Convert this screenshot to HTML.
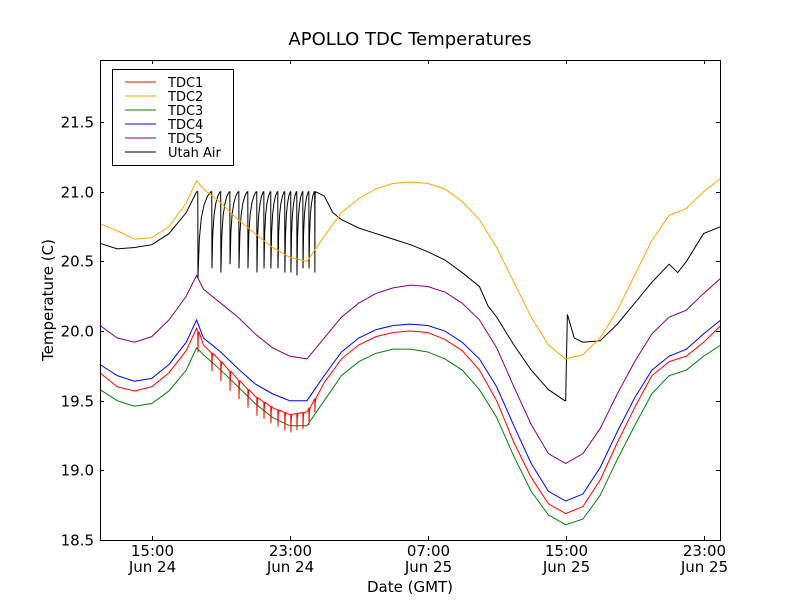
<!DOCTYPE html>
<html><head><meta charset="utf-8"><style>
body{margin:0;background:#fff;}
svg text{font-family:"DejaVu Sans","Liberation Sans",sans-serif;fill:#000;}
</style></head><body>
<svg id="chart" width="800" height="600" xmlns="http://www.w3.org/2000/svg">
<rect width="800" height="600" fill="#fff"/>
<text x="410" y="45" font-size="18" text-anchor="middle">APOLLO TDC Temperatures</text>
<g id="plot"></g>
<g id="axes"></g>
<text x="410" y="592" font-size="15" text-anchor="middle">Date (GMT)</text>
<text transform="translate(53,300) rotate(-90)" font-size="15" text-anchor="middle">Temperature (C)</text>
<g>
<rect x="112.5" y="69.5" width="121" height="96" fill="#fff" stroke="#000" stroke-width="1"/>
<line x1="125" x2="156" y1="82" y2="82" stroke="#ff0000"/><text x="168" y="87" font-size="13">TDC1</text>
<line x1="125" x2="156" y1="96" y2="96" stroke="#ffa500"/><text x="168" y="101" font-size="13">TDC2</text>
<line x1="125" x2="156" y1="110" y2="110" stroke="#008000"/><text x="168" y="115" font-size="13">TDC3</text>
<line x1="125" x2="156" y1="124" y2="124" stroke="#0000ff"/><text x="168" y="129" font-size="13">TDC4</text>
<line x1="125" x2="156" y1="138" y2="138" stroke="#800080"/><text x="168" y="143" font-size="13">TDC5</text>
<line x1="125" x2="156" y1="152" y2="152" stroke="#000"/><text x="168" y="157" font-size="13">Utah Air</text>
</g>
</svg>
<script>
// hours since Jun 24 00:00 GMT
const hours = [12,13,14,15,16,17,17.6,18,19,20,21,22,23,24,25,26,27,28,29,30,31,32,33,34,35,36,37,38,39,40,41,42,43,44,45,46,47,48];
const tdc1 = [19.70,19.60,19.57,19.60,19.70,19.86,20.02,19.90,19.78,19.65,19.53,19.45,19.40,19.42,19.63,19.80,19.90,19.96,19.99,20.00,19.99,19.94,19.86,19.72,19.50,19.20,18.95,18.76,18.69,18.74,18.93,19.20,19.45,19.68,19.78,19.82,19.92,20.04];
const tdc2 = [20.77,20.72,20.66,20.67,20.75,20.92,21.08,21.02,20.92,20.80,20.70,20.60,20.53,20.50,20.68,20.85,20.95,21.02,21.06,21.07,21.06,21.02,20.93,20.80,20.60,20.35,20.10,19.90,19.80,19.83,19.95,20.15,20.40,20.65,20.83,20.88,21.00,21.10];
const tdc3 = [19.58,19.50,19.46,19.48,19.57,19.72,19.88,19.83,19.72,19.60,19.48,19.38,19.32,19.32,19.50,19.68,19.78,19.84,19.87,19.87,19.85,19.80,19.72,19.58,19.38,19.10,18.85,18.68,18.61,18.65,18.82,19.08,19.32,19.55,19.68,19.72,19.82,19.90];
const tdc4 = [19.76,19.68,19.64,19.66,19.76,19.92,20.08,19.95,19.85,19.73,19.62,19.55,19.50,19.50,19.68,19.85,19.95,20.01,20.04,20.05,20.04,20.00,19.92,19.80,19.60,19.32,19.05,18.85,18.78,18.83,19.02,19.28,19.52,19.72,19.82,19.87,19.98,20.08];
const tdc5 = [20.04,19.95,19.92,19.96,20.08,20.25,20.40,20.30,20.20,20.10,19.98,19.88,19.82,19.80,19.95,20.10,20.20,20.27,20.31,20.33,20.32,20.28,20.20,20.08,19.88,19.60,19.33,19.12,19.05,19.12,19.30,19.55,19.78,19.98,20.10,20.15,20.27,20.38];
const airHours = [12,13,14,15,16,17,17.6,24.5,25,25.5,26,27,28,29,30,31,32,33,34,34.5,35,36,37,38,38.95,39.0,39.1,39.5,40,41,42,43,44,45,45.5,46,47,48];
const utahAir = [20.63,20.59,20.60,20.62,20.70,20.85,21.00,21.00,20.97,20.85,20.80,20.74,20.70,20.66,20.62,20.57,20.51,20.42,20.32,20.18,20.10,19.90,19.72,19.58,19.50,19.50,20.12,19.95,19.92,19.93,20.05,20.20,20.35,20.48,20.42,20.50,20.70,20.75];
// oscillation events
const dipHours = [17.68,18.49,19.01,19.54,20.06,20.58,21.10,21.51,21.91,22.32,22.72,23.07,23.42,23.77,24.12,24.46];
const airDips = [20.38,20.45,20.42,20.48,20.45,20.45,20.42,20.45,20.45,20.45,20.42,20.42,20.40,20.45,20.45,20.42];
const airPeak = 21.0;
const tdc1DipDepth = [0.15,0.13,0.14,0.14,0.13,0.13,0.13,0.12,0.12,0.12,0.13,0.13,0.12,0.12,0.12,0.10];
const xTickHours = [15,23,31,39,47];
const xTickLabels = [["15:00","Jun 24"],["23:00","Jun 24"],["07:00","Jun 25"],["15:00","Jun 25"],["23:00","Jun 25"]];
const yTicks = [18.5,19.0,19.5,20.0,20.5,21.0,21.5];

const L=100,R=720,T=60,B=540, H0=12, H1=47.95, V0=18.5, V1=21.946;
const xS=h=>L+(h-H0)/(H1-H0)*(R-L);
const yS=v=>B-(v-V0)/(V1-V0)*(B-T);
const NS="http://www.w3.org/2000/svg";
const plot=document.getElementById('plot'), axes=document.getElementById('axes');
function interp(xs,ys,h){for(let i=0;i<xs.length-1;i++){if(h>=xs[i]&&h<=xs[i+1]){const f=(h-xs[i])/(xs[i+1]-xs[i]);return ys[i]+f*(ys[i+1]-ys[i]);}}return ys[ys.length-1];}
function drawLine(pts,color,name){
  const p=document.createElementNS(NS,'polyline');
  p.setAttribute('points',pts.map(q=>xS(q[0]).toFixed(2)+','+yS(q[1]).toFixed(2)).join(' '));
  p.setAttribute('fill','none');p.setAttribute('stroke',color);p.setAttribute('stroke-width','1');
  
  
  plot.appendChild(p);
}
function basePts(xs,ys){return xs.map((h,i)=>[h,ys[i]]);}
function tdc1Pts(){
  const pts=[];
  hours.forEach((h,i)=>{
    dipHours.forEach((d,j)=>{ if(d>(i?hours[i-1]:0)&&d<=h){const b=interp(hours,tdc1,d);pts.push([d-0.01,b]);pts.push([d,b-tdc1DipDepth[j]]);pts.push([d+0.02,b-0.03]);pts.push([d+0.06,b]);}});
    pts.push([h,tdc1[i]]);
  });
  return pts.sort((a,b)=>a[0]-b[0]);
}
function airPts(){
  const pts=[];
  for(let i=0;i<airHours.length;i++){
    pts.push([airHours[i],utahAir[i]]);
    if(airHours[i]===17.6){
      dipHours.forEach((d,j)=>{
        const next=j<dipHours.length-1?dipHours[j+1]:24.5;
        const dip=airDips[j];
        pts.push([d-0.01,airPeak]);pts.push([d,dip]);
        const span=next-d-0.02;
        [0.1,0.25,0.45,0.7,0.95].forEach((f,k)=>{const r=[0.45,0.7,0.85,0.95,1.0][k];pts.push([d+f*span,dip+r*(airPeak-dip)]);});
      });
    }
  }
  return pts;
}
drawLine(basePts(hours,tdc3),'#008000','series-tdc3');
drawLine(tdc1Pts(),'#ff0000','series-tdc1');
drawLine(basePts(hours,tdc4),'#0000ff','series-tdc4');
drawLine(basePts(hours,tdc5),'#800080','series-tdc5');
drawLine(airPts(),'#000000','series-utah-air');
drawLine(basePts(hours,tdc2),'#ffa500','series-tdc2');
const fr=document.createElementNS(NS,'rect');
fr.setAttribute('x',L+0.5);fr.setAttribute('y',T+0.5);fr.setAttribute('width',R-L);fr.setAttribute('height',B-T);
fr.setAttribute('fill','none');fr.setAttribute('stroke','#000');


axes.appendChild(fr);
function ln(x1,y1,x2,y2,name){const l=document.createElementNS(NS,'line');l.setAttribute('x1',x1);l.setAttribute('y1',y1);l.setAttribute('x2',x2);l.setAttribute('y2',y2);l.setAttribute('stroke','#000');


axes.appendChild(l);}
function tx(x,y,s,anchor,name){const t=document.createElementNS(NS,'text');t.setAttribute('x',x);t.setAttribute('y',y);t.setAttribute('font-size','15');t.setAttribute('text-anchor',anchor);t.textContent=s;


axes.appendChild(t);}
yTicks.forEach(v=>{const y=Math.round(yS(v))+0.5;ln(L,y,L+4,y,'y-tick');ln(R-4,y,R,y,'y-tick');tx(L-6,y+5,v.toFixed(1),'end','y-tick-label');});
xTickHours.forEach((h,i)=>{const x=Math.round(xS(h))+0.5;ln(x,B,x,B-4,'x-tick');ln(x,T,x,T+4,'x-tick');tx(x,556,xTickLabels[i][0],'middle','x-tick-label');tx(x,572,xTickLabels[i][1],'middle','x-tick-date');});
</script>
</body></html>
